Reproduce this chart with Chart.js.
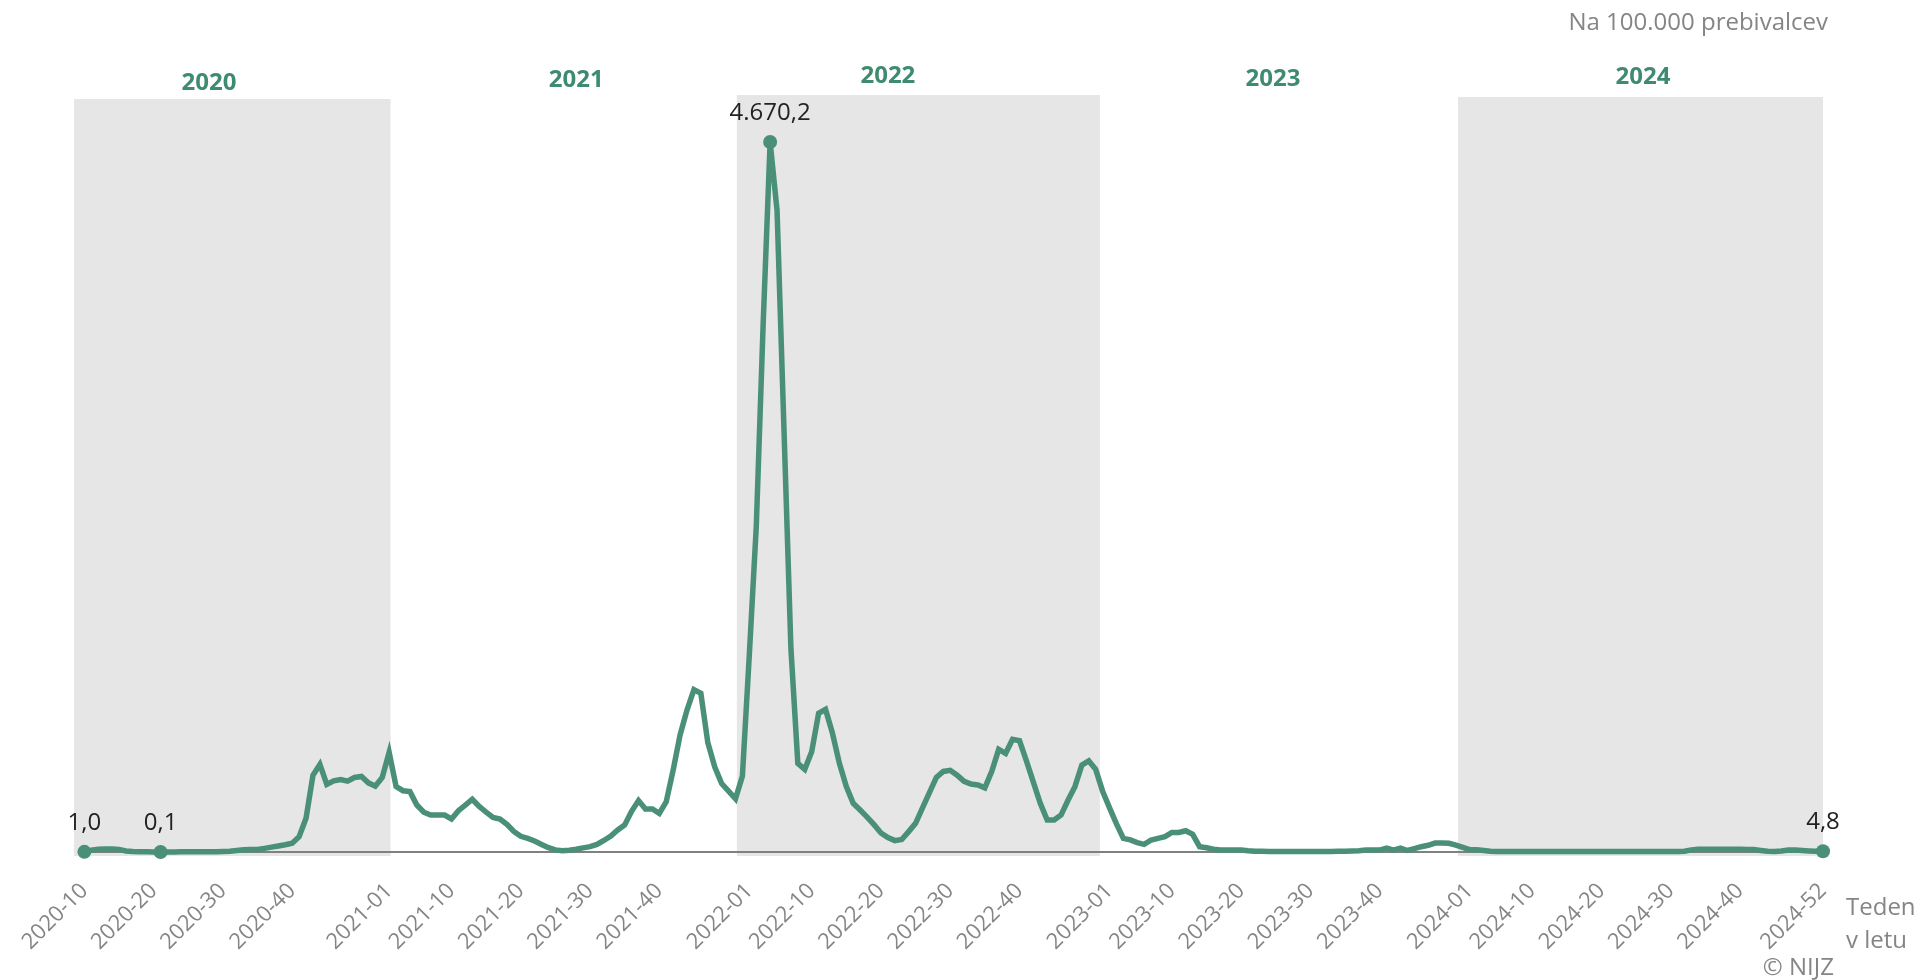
<!DOCTYPE html>
<html>
<head>
<meta charset="utf-8">
<script src="https://cdn.jsdelivr.net/npm/chart.js@4.4.1/dist/chart.umd.min.js"></script>
<style>
    html, body { margin: 0; padding: 0; background: #fff; }
    #wrap { width: 1922px; height: 980px; position: relative; }
</style>
</head>
<body>
<div id="wrap"><canvas id="myGraf"></canvas></div>
<script>
// tedni od 2020-10 do 2024-52, na 100.000 prebivalcev
var leta = [2020, 2021, 2022, 2023, 2024];
var prviTeden = [10, 1, 1, 1, 1];
var zadnjiTeden = [53, 52, 52, 52, 52];

var prikazaneOznake = ['2020-10', '2020-20', '2020-30', '2020-40',
    '2021-01', '2021-10', '2021-20', '2021-30', '2021-40',
    '2022-01', '2022-10', '2022-20', '2022-30', '2022-40',
    '2023-01', '2023-10', '2023-20', '2023-30', '2023-40',
    '2024-01', '2024-10', '2024-20', '2024-30', '2024-40', '2024-52'];

var v2020 = [1.0, 12, 18, 20, 20, 17, 7, 3, 2, 1, 0.6, 0.1, 0.5, 0.8, 1, 1.5, 1, 1.5, 2, 2,
    3, 5, 10, 15, 16, 17, 24, 32, 40, 48, 58, 100, 222, 505, 576, 445, 468, 477, 466, 490,
    497, 455, 433, 490];
var v2021 = [655, 430, 403, 397, 309, 262, 243, 243, 243, 217, 272, 309, 347, 300, 262, 228,
    217, 182, 135, 103, 90, 72, 50, 28, 14, 8, 12, 18, 27, 35, 50, 76, 105, 145, 178, 268,
    338, 283, 283, 254, 330, 539, 770, 934, 1068, 1044, 720, 560, 450, 400, 350, 500];
var v2022 = [1300, 2140, 3480, 4670.2, 4220, 2780, 1340, 583, 544, 660, 912, 938, 781, 583,
    430, 320, 276, 230, 180, 125, 95, 75, 82, 134, 189, 290, 390, 491, 530, 537, 505, 465,
    447, 441, 422, 530, 675, 649, 741, 732, 600, 460, 320, 210, 210, 243, 340, 430, 572,
    599, 544, 400];
var v2023 = [290, 185, 90, 80, 62, 50, 79, 90, 101, 129, 129, 140, 116, 35, 28, 18, 13, 13,
    13, 13, 8, 5, 5, 4, 4, 4, 3, 3, 3, 3, 3, 4, 4, 5, 5, 6, 8, 13, 13, 13, 26, 13, 26, 10,
    22, 35, 44, 59, 59, 57, 45, 30];
var v2024 = [15, 14, 10, 5, 4, 4, 3, 3, 3, 3, 3, 3, 3, 3, 3, 3, 3, 3, 3, 3, 3, 3, 3, 3, 3, 3,
    3, 3, 3, 4, 4, 5, 14, 18, 18, 18, 18, 18, 18, 18, 17, 16, 10, 5, 4, 6, 13, 13, 10, 7, 5, 4.8];

var oznakeLet = ['2020', '2021', '2022', '2023', '2024'];

var tedni = [];
for (var l = 0; l < leta.length; l++) {
    for (var t = prviTeden[l]; t <= zadnjiTeden[l]; t++) {
        tedni.push(leta[l] + '-' + (t < 10 ? '0' + t : t));
    }
}
var vrednosti = v2020.concat(v2021, v2022, v2023, v2024);

var zelena = '#4a8f78';
var siva = '#858585';

function formatSl(v) {
    var d = v.toFixed(1).split('.');
    var cela = d[0].replace(/\B(?=(\d{3})+(?!\d))/g, '.');
    return cela + ',' + d[1];
}

// prva, najnizja, najvisja in zadnja tocka
var iMin = vrednosti.indexOf(Math.min.apply(null, vrednosti));
var iMax = vrednosti.indexOf(Math.max.apply(null, vrednosti));
var oznaceneTocke = [0, iMin, iMax, vrednosti.length - 1];

var ozadjePlugin = {
    id: 'ozadje',
    beforeDraw: function(chart, args, opts) {
        var c = chart.ctx, x = chart.scales.x, area = chart.chartArea;
        c.save();
        c.fillStyle = '#fff';
        c.fillRect(0, 0, chart.width, chart.height);
        c.fillStyle = '#e5e6e5';
        opts.pasovi.forEach(function(p) {
            var x1 = x.getPixelForValue(p.od), x2 = x.getPixelForValue(p.do);
            c.fillRect(x1, p.vrh, x2 - x1, area.bottom + 4 - p.vrh);
        });
        c.restore();
    }
};

var oznakePlugin = {
    id: 'oznake',
    afterDraw: function(chart, args, opts) {
        var c = chart.ctx, x = chart.scales.x, y = chart.scales.y;
        c.save();
        c.textAlign = 'center';
        c.textBaseline = 'middle';
        c.fillStyle = '#222';
        c.font = '24px "Open Sans"';
        oznaceneTocke.forEach(function(i) {
            c.fillText(formatSl(vrednosti[i]), x.getPixelForValue(i), y.getPixelForValue(vrednosti[i]) - 29);
        });

        c.fillStyle = '#3e8b6f';
        c.font = 'bold 24px "Open Sans"';
        oznakeLet.forEach(function(leto, k) {
            c.fillText(leto, x.getPixelForValue(opts.letoX[k]), opts.letoY[k]);
        });

        c.fillStyle = siva;
        c.font = '24px "Open Sans"';
        c.textAlign = 'right';
        c.fillText('Na 100.000 prebivalcev', 1828, 23);
        c.fillText('© NIJZ', 1834, 968);
        c.textAlign = 'left';
        c.fillText('Teden', 1846, 908);
        c.fillText('v letu', 1846, 941);
        c.restore();
    }
};

var ctx = document.getElementById('myGraf').getContext('2d');
var myGraf = new Chart(ctx, {
    type: 'line',
    data: {
        labels: tedni,
        datasets: [{
            data: vrednosti,
            borderColor: zelena,
            backgroundColor: zelena,
            borderWidth: 5.5,
            tension: 0,
            clip: false,
            pointRadius: function(c) { return oznaceneTocke.indexOf(c.dataIndex) >= 0 ? 7 : 0; },
            pointBorderWidth: 0,
            pointBackgroundColor: zelena
        }]
    },
    options: {
        responsive: true,
        maintainAspectRatio: false,
        animation: false,
        layout: { padding: { left: 82, right: 99, top: 142, bottom: 0 } },
        scales: {
            x: {
                grid: { display: false, drawTicks: false },
                border: { display: true, color: '#808080', width: 2 },
                ticks: {
                    autoSkip: false,
                    minRotation: 45,
                    maxRotation: 45,
                    padding: 26,
                    color: siva,
                    font: { family: 'Open Sans', size: 22 },
                    callback: function(value) {
                        var l = this.getLabelForValue(value);
                        return prikazaneOznake.indexOf(l) >= 0 ? l : '';
                    }
                },
                afterFit: function(scale) { scale.height = 128; }
            },
            y: { display: false, min: 0, max: 4670.2 }
        },
        plugins: {
            legend: { display: false },
            tooltip: { enabled: false },
            ozadje: {
                pasovi: [
                    { od: -1.5, do: 44.2, vrh: 99 },
                    { od: 94.2, do: 146.6, vrh: 95 },
                    { od: 198.3, do: 251, vrh: 97 }
                ]
            },
            oznake: {
                letoX: [18, 71, 116, 171.6, 225],
                letoY: [83, 80, 76, 79, 77]
            }
        }
    },
    plugins: [ozadjePlugin, oznakePlugin]
});
</script>
</body>
</html>
